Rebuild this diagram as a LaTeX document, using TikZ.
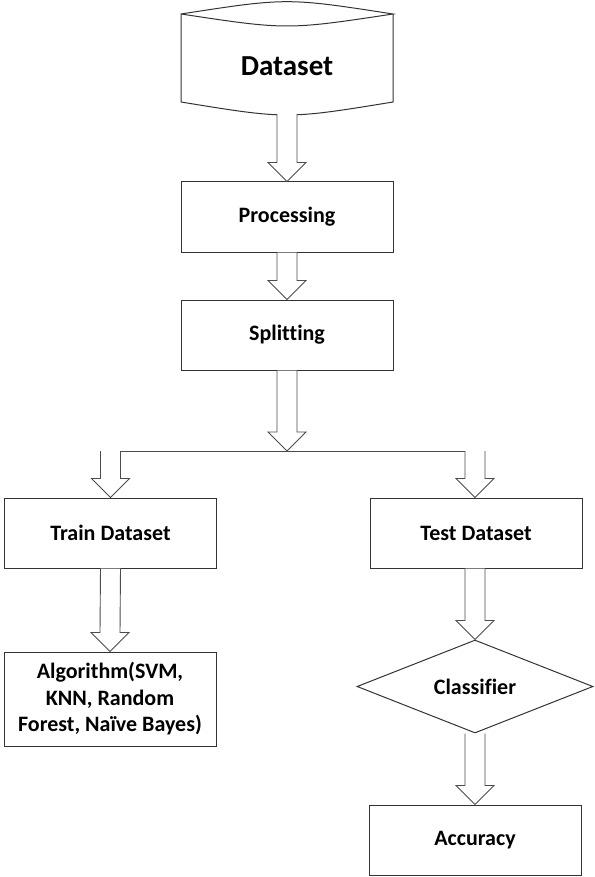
\documentclass[tikz,border=0pt]{standalone}
\usepackage{fontspec}
\setmainfont[Ligatures=NoCommon]{Carlito}
\usetikzlibrary{calc,shapes.geometric}

\tikzset{
  box/.style={draw=black!80, line width=1pt, minimum width=212pt, minimum height=70pt,
              font=\fontsize{22}{26.5}\selectfont\bfseries, align=center, inner sep=2pt},
  blk/.style={draw=black!70, line width=0.9pt, fill=white, line join=miter},
}
% block arrow from #1 (shaft start) down to #2 (tip)
\newcommand{\blockarrow}[2]{%
  \draw[blk] ($(#1)+(-10,0)$) -- ($(#2)+(-10,-19)$) -- ($(#2)+(-19,-19)$) -- (#2)
    -- ($(#2)+(19,-19)$) -- ($(#2)+(10,-19)$) -- ($(#1)+(10,0)$);}

\begin{document}
\begin{tikzpicture}[x=1pt, y=-1pt]
\useasboundingbox (0,0) rectangle (594,877);

% dataset (storage shape)
\node[minimum width=212pt, minimum height=88pt, font=\fontsize{29}{32}\selectfont\bfseries] (data) at (287,66) {Dataset};
\draw[black!80, line width=1pt] (181,14) .. controls (287,-2.4) .. (393,14)
  .. controls (287,30) .. (181,14) -- (181,102) .. controls (287,119.3) .. (393,102) -- (393,14);
\coordinate (dataout) at (287,114);

\node[box] (proc)  at (287,217) {Processing};
\node[box] (split) at (287,335) {Splitting};
\node[box] (train) at (110.5,533) {Train Dataset};
\node[box] (test)  at (476,533) {Test Dataset};
\node[box, minimum height=94pt] (algo) at (110,699) {Algorithm(SVM,\\KNN, Random\\Forest, Na\"ive Bayes)};
\node[box, shape=diamond, aspect=2.5, minimum width=236pt, minimum height=93pt] (clf) at (475,686.5) {Classifier};
\node[box] (acc)   at (475,840) {Accuracy};

% fork line
\coordinate (fork)  at (287,451);
\coordinate (forkL) at (train.north |- fork);
\coordinate (forkR) at ($(test.north |- fork)+(-1,0)$);
\draw[black!70, line width=0.9pt] ($(forkL)+(-10,0)$) -- ($(forkR)+(10,0)$);

\blockarrow{dataout}{proc.north}
\blockarrow{proc.south}{split.north}
\blockarrow{split.south}{fork}
\blockarrow{forkL}{train.north}
\blockarrow{forkR}{$(test.north)+(-1,0)$}
\blockarrow{train.south}{algo.north}
\blockarrow{$(test.south)+(-1,0)$}{clf.north}
\blockarrow{clf.south}{acc.north}
\end{tikzpicture}
\end{document}
